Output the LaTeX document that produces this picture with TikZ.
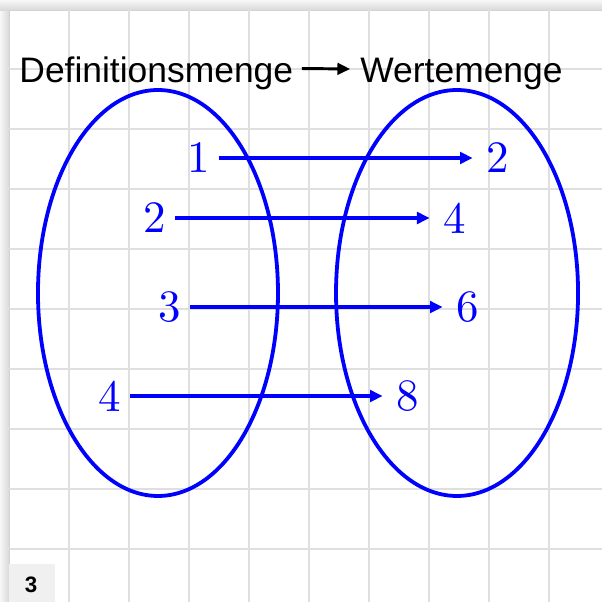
\documentclass[tikz,border=0pt]{standalone}
\usepackage{fontspec}
\setsansfont{Liberation Sans}
\newfontfamily\numfont{lmroman10-regular.otf}
\usetikzlibrary{arrows.meta}

\begin{document}
\begin{tikzpicture}[x=1cm, y=1cm, >={Triangle[length=6pt, width=5.5pt]},
    gridline/.style={gray!25, line width=0.9pt},
    setline/.style={blue, line width=1.8pt},
    num/.style={blue, inner sep=4pt, font=\numfont\fontsize{21.3}{24}\selectfont},
    maparrow/.style={->, blue, line width=1.6pt, shorten >=2.5pt},
    heading/.style={font=\sffamily\fontsize{16.8}{20}\selectfont, inner sep=0pt}]
    \useasboundingbox (0, 0) rectangle (10.033, -10.033);

    % Paper with its shadow
    \fill[gray!12] (0, 0) rectangle (10.033, -10.033);
    \shade[left color=gray!6, right color=gray!30] (0, 0) rectangle (0.15, -10.033);
    \shade[top color=gray!6, bottom color=gray!30] (0, 0) rectangle (10.033, -0.167);
    \fill[white] (0.15, -0.167) rectangle (10.033, -10.033);
    \draw[gray!35, line width=0.3pt] (0.15, -10.033) -- (0.15, -0.167) -- (10.033, -0.167);

    % Squared paper
    \foreach \k in {1,...,9} {
        \draw[gridline] (\k+0.15, -0.167) -- (\k+0.15, -10.033);
        \draw[gridline] (0.15, -\k-0.15) -- (10.033, -\k-0.15);
    }

    % Page number
    \fill[gray!12] (0.15, -9.4) rectangle (0.917, -10.033);
    \node[font=\sffamily\bfseries\fontsize{10.6}{12}\selectfont] (pagenum) at (0.517, -9.75) {3};

    % Heading
    \node[heading, anchor=base west] (defmenge) at (0.317, -1.367) {Definitionsmenge};
    \node[heading, anchor=base west] (wertmenge) at (6.0, -1.367) {Wertemenge};
    \draw[->, line width=1.4pt, shorten <=3.9pt, shorten >=4.7pt]
        ([yshift=2.1pt]defmenge.east) -- ([yshift=2.1pt]wertmenge.west);

    % The two sets
    \draw[setline] (2.633, -4.883) ellipse (2.0 and 3.383);
    \draw[setline] (7.617, -4.883) ellipse (2.017 and 3.383);

    % Elements of the domain
    \node[num] (d1) at (3.317, -2.633) {1};
    \node[num] (d2) at (2.583, -3.633) {2};
    \node[num] (d3) at (2.833, -5.117) {3};
    \node[num] (d4) at (1.833, -6.6) {4};

    % Elements of the range
    \node[num] (w2) at (8.3, -2.633) {2};
    \node[num] (w4) at (7.583, -3.633) {4};
    \node[num] (w6) at (7.8, -5.117) {6};
    \node[num] (w8) at (6.8, -6.6) {8};

    % Mapping x -> 2x
    \draw[maparrow] (d1) -- (w2);
    \draw[maparrow] (d2) -- (w4);
    \draw[maparrow] (d3) -- (w6);
    \draw[maparrow] (d4) -- (w8);

\end{tikzpicture}
\end{document}
